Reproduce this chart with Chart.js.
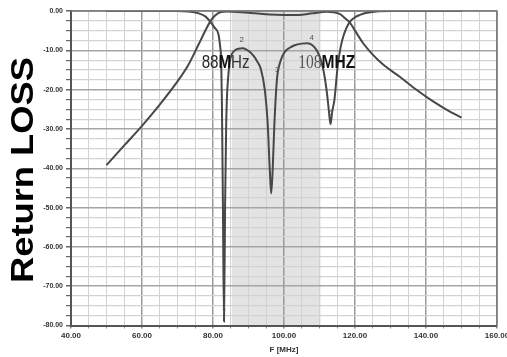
<!DOCTYPE html>
<html>
<head>
<meta charset="utf-8">
<script src="https://cdn.jsdelivr.net/npm/chart.js@4.4.1/dist/chart.umd.min.js"></script>
<style>
  html, body { margin: 0; padding: 0; background: #fff; }
  #wrap { width: 507px; height: 357px; }
</style>
</head>
<body>
<div id="wrap"><canvas id="rlChart" width="507" height="357"></canvas></div>
<script>
// transmission curve (S21), dB vs MHz
const s21Freq = [50, 55, 60, 65, 70, 73, 76, 78, 79.2, 80.5, 82, 84, 88, 92, 96, 100, 104, 108, 112, 114, 115.8, 117, 118.6, 120, 122.3, 125, 128, 132.7, 137.4, 142, 146, 150];
const s21Loss = [-39.2, -34.2, -29.2, -23.8, -17.9, -13.8, -8.4, -4.7, -2.7, -1.2, -0.3, -0.1, -0.3, -0.6, -0.9, -1.0, -1.0, -0.6, -0.2, -0.3, -0.8, -1.7, -3.0, -5.0, -8.2, -11.1, -13.7, -16.8, -20.1, -23.0, -25.2, -27.1];

// return loss curve (S11)
const s11Freq = [50, 60, 70, 73, 76, 78, 79.2, 80.5, 81.5, 82.0, 82.3, 82.5, 82.8, 83.1, 83.4, 83.7, 83.9, 84.3, 84.7, 85.3, 86.2, 87.2, 88.3, 89.4, 90.5, 91.5, 92.5, 93.5, 94.6, 95.4, 96.0, 96.4, 96.8, 97.3, 98.0, 99.0, 100.2, 101.5, 103, 105, 106.6, 108, 109.2, 110.2, 111.1, 112.0, 112.6, 113.1, 113.6, 114.2, 115.1, 116.0, 116.7, 117.6, 118.6, 120, 121.4, 123, 126, 130, 140, 150];
const s11Loss = [0, 0, 0, -0.1, -0.6, -1.5, -2.7, -4.3, -5.8, -9, -12.5, -22.6, -50, -79, -50, -30, -22.6, -16.5, -13.0, -11.0, -10.0, -9.6, -9.5, -9.8, -10.5, -11.5, -12.9, -14.8, -20.1, -28.6, -40.5, -46.4, -40.5, -28.6, -17.5, -12.8, -10.4, -9.4, -8.7, -8.3, -8.2, -8.7, -10.0, -12.0, -15, -20.1, -25, -28.8, -25.5, -22.6, -14.2, -9.0, -6.5, -4.3, -2.7, -1.6, -1.0, -0.5, -0.1, 0, 0, 0];

// FM band shading and marker labels
const passBand = [85.3, 110.3];
const markerText = ['1', '2', '3', '4', '5'];
const markerFreq = [83.1, 88.1, 98.1, 107.8, 113.2];
const markerLevel = [-75.6, -7.2, -15.0, -6.9, -26.0];

const xRange = [40, 160];
const yRange = [-80, 0];

const lineColor = '#474747';

function toPoints(xs, ys) {
  return xs.map((v, i) => ({ x: v, y: ys[i] }));
}

function drawPieces(ctx, pieces, x, y, targetWidth) {
  let w = 0;
  pieces.forEach(p => { ctx.font = p.font; w += ctx.measureText(p.text).width; });
  const k = targetWidth / w;
  ctx.save();
  ctx.translate(x, y);
  ctx.scale(k, 1);
  let cx = 0;
  pieces.forEach(p => {
    ctx.font = p.font;
    ctx.fillStyle = p.color;
    ctx.fillText(p.text, cx, 0);
    cx += ctx.measureText(p.text).width;
  });
  ctx.restore();
}

const decorPlugin = {
  id: 'decor',
  beforeDraw(chart) {
    const { ctx, chartArea: a, scales: { x } } = chart;
    ctx.save();
    ctx.fillStyle = '#fff';
    ctx.fillRect(0, 0, chart.width, chart.height);
    const x0 = x.getPixelForValue(passBand[0]);
    const x1 = x.getPixelForValue(passBand[1]);
    ctx.fillStyle = '#e3e3e3';
    ctx.fillRect(x0, a.top, x1 - x0, a.bottom - a.top);
    ctx.restore();
  },
  afterDraw(chart) {
    const { ctx, chartArea: a, scales: { x, y } } = chart;
    ctx.save();
    // frame on the right and top
    ctx.strokeStyle = '#777';
    ctx.lineWidth = 1.5;
    ctx.beginPath();
    ctx.moveTo(a.left, a.top);
    ctx.lineTo(a.right, a.top);
    ctx.lineTo(a.right, a.bottom);
    ctx.stroke();

    // marker numbers
    ctx.font = '8px "Liberation Sans"';
    ctx.fillStyle = '#555';
    ctx.textAlign = 'center';
    ctx.textBaseline = 'middle';
    markerText.forEach((t, i) => {
      ctx.fillText(t, x.getPixelForValue(markerFreq[i]), y.getPixelForValue(markerLevel[i]));
    });

    // band edge annotations
    ctx.textAlign = 'left';
    ctx.textBaseline = 'alphabetic';
    const base = y.getPixelForValue(-14.6);
    drawPieces(ctx, [
      { text: '88', font: '18px "Liberation Sans"', color: '#2a2a2a' },
      { text: 'M', font: 'bold 18px "Liberation Sans"', color: '#111' },
      { text: 'Hz', font: '18px "Liberation Sans"', color: '#333' }
    ], x.getPixelForValue(76.8), base, 48);
    drawPieces(ctx, [
      { text: '108', font: '18px "Liberation Serif"', color: '#555' },
      { text: 'MHZ', font: 'bold 18px "Liberation Sans"', color: '#111' }
    ], x.getPixelForValue(104.0), base, 57);

    // y axis title
    ctx.save();
    ctx.translate(33, 170);
    ctx.rotate(-Math.PI / 2);
    ctx.font = 'bold 32px "Liberation Sans"';
    const tw = ctx.measureText('Return LOSS').width;
    ctx.scale(226 / tw, 1);
    ctx.fillStyle = '#000';
    ctx.textAlign = 'center';
    ctx.fillText('Return LOSS', 0, 0);
    ctx.restore();
    ctx.restore();
  }
};

const chart = new Chart(document.getElementById('rlChart').getContext('2d'), {
  type: 'line',
  data: {
    datasets: [
      { label: 'S21', data: toPoints(s21Freq, s21Loss) },
      { label: 'S11', data: toPoints(s11Freq, s11Loss) }
    ]
  },
  options: {
    responsive: false,
    animation: false,
    layout: { padding: { left: 0, right: 10, top: 11, bottom: 0 } },
    elements: {
      point: { radius: 0 },
      line: { borderColor: lineColor, borderWidth: 2, cubicInterpolationMode: 'monotone', fill: false }
    },
    plugins: { legend: { display: false }, tooltip: { enabled: false } },
    scales: {
      x: {
        type: 'linear',
        min: xRange[0],
        max: xRange[1],
        afterFit: s => { s.height = 31.5; s.paddingLeft = 0; s.paddingRight = 0; },
        ticks: {
          stepSize: 5,
          autoSkip: false,
          maxRotation: 0,
          padding: 2.5,
          color: '#333',
          font: { family: 'Liberation Sans', size: 8, weight: 'bold' },
          callback: v => (v % 20 === 0 ? v.toFixed(2) : '')
        },
        grid: {
          tickLength: 3,
          color: c => (c.tick && c.tick.value % 20 === 0 ? '#9a9a9a' : '#d2d2d2'),
          lineWidth: c => (c.tick && c.tick.value % 20 === 0 ? 1.5 : 1),
          tickColor: '#888'
        },
        border: { color: '#555', width: 2 },
        title: {
          display: true,
          text: 'F [MHz]',
          color: '#333',
          font: { family: 'Liberation Sans', size: 8, weight: 'bold' },
          padding: { top: 0, bottom: 2 }
        }
      },
      y: {
        min: yRange[0],
        max: yRange[1],
        afterFit: s => { s.width = 71; },
        ticks: {
          stepSize: 2.5,
          autoSkip: false,
          padding: 3,
          color: '#333',
          font: { family: 'Liberation Sans', size: 7, weight: 'bold' },
          callback: v => (v % 10 === 0 ? v.toFixed(2) : '')
        },
        grid: {
          tickLength: 5,
          color: c => (c.tick && c.tick.value % 10 === 0 ? '#a5a5a5' : '#d2d2d2'),
          lineWidth: c => (c.tick && c.tick.value % 10 === 0 ? 1.5 : 1.2),
          tickColor: '#666'
        },
        border: { color: '#555', width: 2 }
      }
    }
  },
  plugins: [decorPlugin]
});
</script>
</body>
</html>
